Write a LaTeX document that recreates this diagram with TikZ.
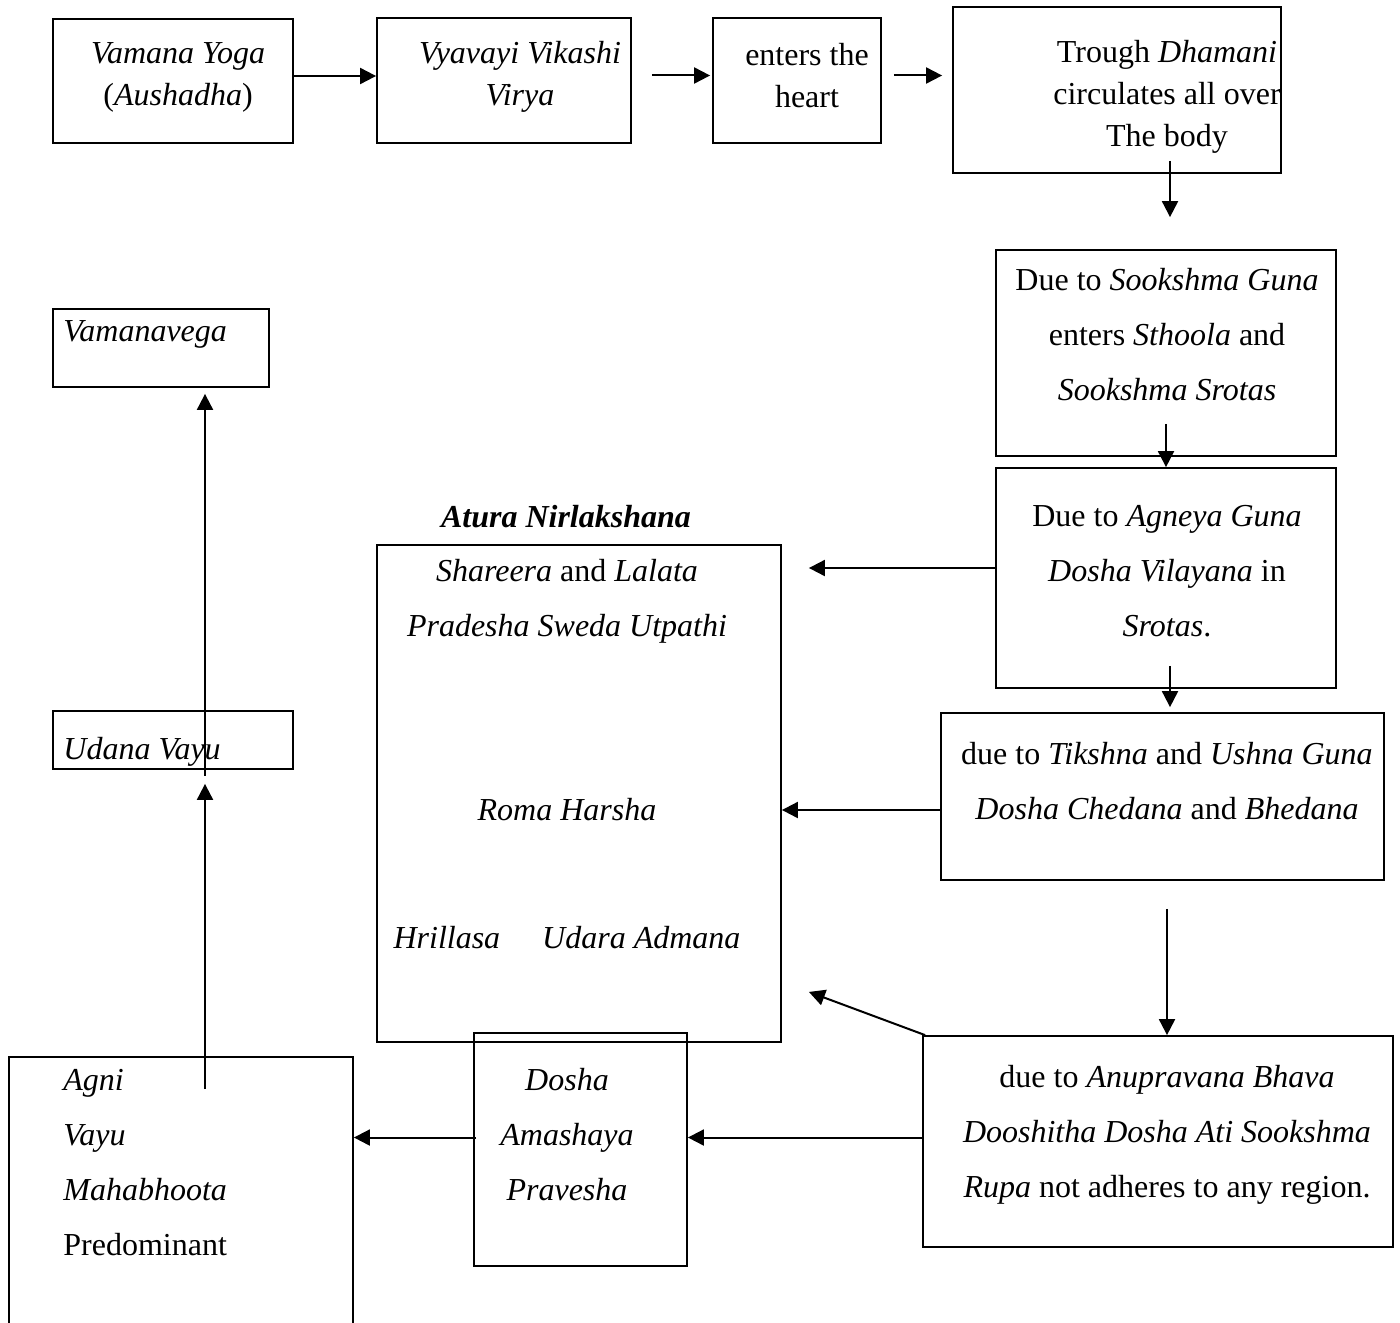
\documentclass[tikz,border=0pt]{standalone}
\usepackage{fontspec}
\setmainfont{Liberation Serif}
\usetikzlibrary{arrows.meta,fit}
\begin{document}
\begin{tikzpicture}[x=0.5pt,y=-0.5pt,
    box/.style={draw,line width=0.9pt,inner sep=0pt},
    txt/.style={align=center,inner sep=0pt,font=\fontsize{16}{27.5}\selectfont},
    toptxt/.style={txt,font=\fontsize{16}{21}\selectfont},
    arr/.style={line width=1pt,-{Triangle[length=8pt,width=8pt]}}]
  \clip (0,0) rectangle (1400,1322);
  % top row
  \node[box,fit={(53,19) (293,143)}] (yoga) {};
  \node[box,fit={(377,18) (631,143)}] (vyav) {};
  \node[box,fit={(713,18) (881,143)}] (heart) {};
  \node[box,fit={(953,7) (1281,173)}] (dham) {};
  \node[toptxt] (yogaT) at (178,77) {\textit{Vamana Yoga}\\(\textit{Aushadha})};
  \node[toptxt] (vyavT) at (520,77) {\textit{Vyavayi Vikashi}\\\textit{Virya}};
  \node[toptxt] (heartT) at (807,76) {enters the\\heart};
  \node[toptxt] (dhamT) at (1167,97) {Trough \textit{Dhamani}\\circulates all over\\The body};
  % right column
  \node[box,fit={(996,250) (1336,456)}] (sook) {};
  \node[box,fit={(996,468) (1336,688)}] (agn) {};
  \node[box,fit={(941,713) (1384,880)}] (tik) {};
  \node[box,fit={(923,1036) (1393,1247)}] (anu) {};
  \node[txt] (sookT) at (1167,335) {Due to \textit{Sookshma Guna}\\enters \textit{Sthoola} and\\\textit{Sookshma Srotas}};
  \node[txt] (agnT) at (1167,571) {Due to \textit{Agneya Guna}\\\textit{Dosha Vilayana} in\\\textit{Srotas}.};
  \node[txt] (tikT) at (1167,781) {due to \textit{Tikshna} and \textit{Ushna Guna}\\\textit{Dosha Chedana} and \textit{Bhedana}};
  \node[txt] (anuT) at (1167,1135) {due to \textit{Anupravana Bhava}\\\textit{Dooshitha Dosha Ati Sookshma}\\\textit{Rupa} not adheres to any region.};
  % middle
  \node[box,fit={(377,545) (781,1042)}] (atura) {};
  \node[box,fit={(474,1033) (687,1266)}] (dosha) {};
  \node[txt,font=\fontsize{16}{27.5}\selectfont\bfseries\itshape] (aturaT) at (566,517) {Atura Nirlakshana};
  \node[txt] (swedaT) at (567,601) {\textit{Shareera} and \textit{Lalata}\\\textit{Pradesha Sweda Utpathi}};
  \node[txt] (romaT) at (567,810) {\textit{Roma Harsha}};
  \node[txt] (hriT) at (567,938) {\textit{Hrillasa}\hspace{21pt}\textit{Udara Admana}};
  \node[txt] (doshaT) at (567,1135) {\textit{Dosha}\\\textit{Amashaya}\\\textit{Pravesha}};
  % left column
  \node[box,fit={(53,309) (269,387)}] (vega) {};
  \node[box,fit={(53,711) (293,769)}] (udana) {};
  \node[box,fit={(9,1057) (353,1340)}] (agni) {};
  \node[txt,anchor=west] (vegaT) at (63,334) {\textit{Vamanavega}};
  \node[txt,anchor=west] (udanaT) at (63,752) {\textit{Udana Vayu}};
  \node[txt,anchor=west,align=left] (agniT) at (63,1163) {\textit{Agni}\\\textit{Vayu}\\\textit{Mahabhoota}\\Predominant};
  % arrows
  \draw[arr] ([yshift=2.5pt]yoga.east) -- ([yshift=2.5pt]yoga.east -| vyav.west);
  \draw[arr] ([xshift=10pt,yshift=2.5pt]vyav.east) -- ([xshift=-1pt,yshift=2.5pt]vyav.east -| heart.west);
  \draw[arr] ([xshift=6pt,yshift=2.5pt]heart.east) -- ([xshift=-5pt,yshift=2.5pt]heart.east -| dham.west);
  \draw[arr] ([xshift=2pt,yshift=6.5pt]dham.south -| sook.north) -- ([xshift=2pt,yshift=16pt]sook.north);
  \draw[arr] ([yshift=16.5pt]sook.south) -- (agn.north);
  \draw[arr] ([xshift=2pt,yshift=11.5pt]agn.south) -- ([xshift=2pt,yshift=2.5pt]agn.south |- tik.north);
  \draw[arr] ([xshift=2.25pt,yshift=-14pt]tik.south) -- ([xshift=2.25pt]tik.south |- anu.north);
  \draw[arr] ([yshift=5pt]agn.west) -- ([xshift=13.5pt,yshift=5pt]agn.west -| atura.east);
  \draw[arr] ([yshift=-6.75pt]tik.west) -- ([yshift=-6.75pt]tik.west -| atura.east);
  \draw[arr] ([xshift=1.5pt]anu.north west) -- ([xshift=13.5pt,yshift=25.5pt]atura.south east);
  \draw[arr] ([yshift=2pt]anu.west) -- ([yshift=2pt]anu.west -| dosha.east);
  \draw[arr] ([xshift=1.5pt,yshift=2pt]anu.west -| dosha.west) -- ([yshift=2pt]anu.west -| agni.east);
  \draw[arr] ([xshift=16pt,yshift=-16.5pt]udana.south |- agni.north) -- ([xshift=16pt,yshift=-7pt]udana.south);
  \draw[arr] ([xshift=16pt,yshift=-3pt]udana.south) -- ([xshift=22pt,yshift=-3pt]vega.south);
\end{tikzpicture}
\end{document}
